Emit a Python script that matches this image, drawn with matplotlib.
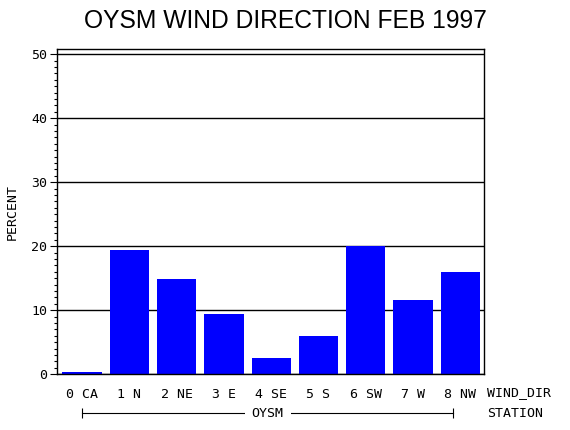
import matplotlib
matplotlib.use("Agg")
import matplotlib.pyplot as plt
import matplotlib.transforms as mtransforms
from matplotlib.ticker import MultipleLocator

# wind direction categories and percent of observations
directions = ["0 CA", "1 N", "2 NE", "3 E", "4 SE", "5 S", "6 SW", "7 W", "8 NW"]
percent = [0.3, 19.4, 14.8, 9.4, 2.5, 5.9, 20.0, 11.6, 15.9]
station = "OYSM"

mono = "DejaVu Sans Mono"
fs = 9.5

fig = plt.figure(figsize=(5.7, 4.3), dpi=100)
ax = fig.add_axes([0.1, 0.130, 0.749, 0.756])

xs = list(range(len(directions)))
ax.bar(xs, percent, width=0.83, color="#0000ff", zorder=2)

ax.set_xlim(-0.53, 8.5)
ax.set_ylim(0, 50.8)
ax.yaxis.set_major_locator(MultipleLocator(10))
ax.yaxis.set_minor_locator(MultipleLocator(1))
ax.grid(axis="y", which="major", color="black", linewidth=1.0, zorder=1)

ax.set_xticks(xs)
ax.set_xticklabels(directions, fontfamily=mono, fontsize=fs)
ax.tick_params(axis="x", length=0, pad=10)
ax.tick_params(axis="y", which="major", length=5, width=0.8, pad=2, labelsize=fs)
ax.tick_params(axis="y", which="minor", length=2.5, width=0.8)
for lab in ax.get_yticklabels():
    lab.set_fontfamily(mono)
for sp in ax.spines.values():
    sp.set_linewidth(1.0)

ax.set_ylabel("PERCENT", fontfamily=mono, fontsize=fs, labelpad=9)

# title
fig.text(0.5, 0.95, "OYSM WIND DIRECTION FEB 1997", ha="center", va="center",
         fontfamily="Liberation Sans", fontsize=17.7)

# axis captions at the right
trans = mtransforms.blended_transform_factory(fig.transFigure, ax.transAxes)
ax.text(0.854, -0.058, "WIND_DIR", transform=trans, ha="left", va="center",
        fontfamily=mono, fontsize=fs)
ax.text(0.854, -0.12, "STATION", transform=trans, ha="left", va="center",
        fontfamily=mono, fontsize=fs)

# station bracket below the direction labels
btrans = mtransforms.blended_transform_factory(ax.transData, ax.transAxes)
x0, x1 = 0, 7.85
ax.plot([x0, x1], [-0.12, -0.12], color="black", linewidth=0.8,
        transform=btrans, clip_on=False)
ax.plot([x0, x1], [-0.12, -0.12], linestyle="none", marker="|", markersize=7,
        color="black", markeredgewidth=0.8, transform=btrans, clip_on=False)
ax.text((x0 + x1) / 2, -0.12, station, transform=btrans, ha="center", va="center",
        fontfamily=mono, fontsize=fs,
        bbox=dict(facecolor="white", edgecolor="none", pad=5))

fig.savefig("out.png", dpi=100)
